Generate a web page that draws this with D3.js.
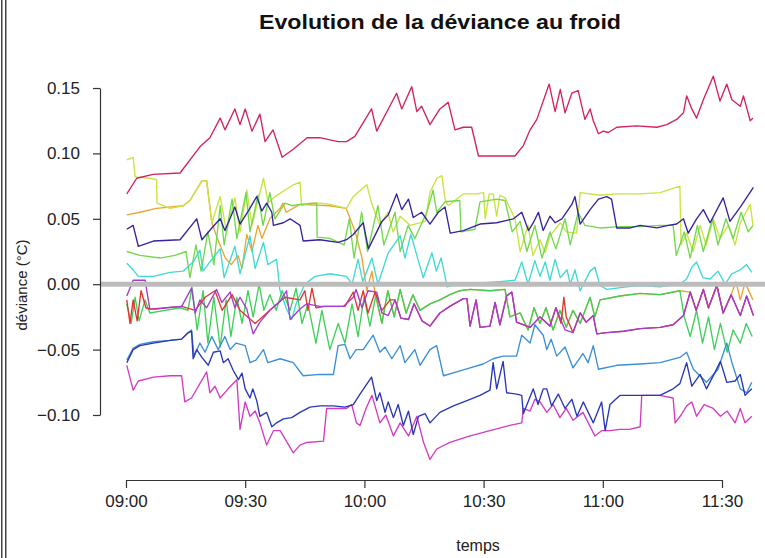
<!DOCTYPE html>
<html><head><meta charset="utf-8">
<script src="https://cdn.jsdelivr.net/npm/d3@7"></script>
<style>body{margin:0;background:#fff} svg{display:block}</style>
</head><body><svg id="c" width="765" height="558"></svg>
<script>
const title = "Evolution de la déviance au froid";
const yLabel = "déviance (°C)";
const xLabel = "temps";
const yTicks = [-0.10, -0.05, 0, 0.05, 0.10, 0.15];
const xTickLabels = ["09:00", "09:30", "10:00", "10:30", "11:00", "11:30"];

// [minutes after 09:00, deviance °C]
const crimson = [[0.2,0.069],[2.7,0.081],[6.8,0.084],[13.6,0.085],[18.6,0.105],[21.1,0.112],[23.7,0.127],[24.9,0.118],[27.4,0.134],[28.7,0.122],[30,0.134],[31.7,0.117],[33.7,0.130],[35,0.109],[37,0.118],[39.3,0.097],[42,0.103],[45.6,0.112],[48.8,0.112],[53.4,0.109],[55.5,0.109],[57.6,0.113],[61.8,0.134],[63.1,0.117],[68.1,0.146],[69.4,0.134],[71.9,0.151],[73.2,0.132],[74.4,0.136],[76.5,0.122],[79,0.134],[81.1,0.139],[82.8,0.118],[84.9,0.120],[87,0.120],[88.7,0.098],[92.4,0.098],[97.9,0.098],[100,0.106],[101.7,0.118],[103.4,0.126],[106.5,0.153],[108,0.132],[109.3,0.149],[110.5,0.131],[112.2,0.146],[113.8,0.148],[115.5,0.126],[116.8,0.134],[117.6,0.125],[118.9,0.115],[120.1,0.117],[121.4,0.116],[123.5,0.120],[128.5,0.121],[133.6,0.120],[136.1,0.122],[138.6,0.126],[140.3,0.131],[141.1,0.144],[142.4,0.134],[143.6,0.127],[145.3,0.141],[147.8,0.159],[149.5,0.140],[151.2,0.153],[152.5,0.141],[154.6,0.136],[155.4,0.144],[157.1,0.125],[157.8,0.127]];
const navy = [[0.2,0.042],[1.8,0.045],[3.1,0.029],[6.9,0.033],[13.6,0.034],[17.8,0.050],[19.1,0.034],[21.6,0.043],[23.7,0.050],[24.9,0.041],[27.4,0.059],[28.7,0.046],[30.8,0.056],[32.9,0.067],[34.2,0.056],[35.4,0.062],[36.7,0.055],[37.1,0.045],[39.6,0.047],[41.3,0.050],[43.8,0.045],[44.6,0.033],[48.8,0.034],[53.4,0.032],[55.5,0.034],[57.2,0.038],[59.7,0.047],[61,0.027],[64.4,0.048],[66,0.053],[68.1,0.069],[69.4,0.057],[71.1,0.065],[72.3,0.051],[74.4,0.055],[76.5,0.046],[78.6,0.055],[80.3,0.059],[81.6,0.039],[84.9,0.041],[89.1,0.046],[93.3,0.047],[97.5,0.050],[99.6,0.055],[101.3,0.041],[102.5,0.047],[103.8,0.055],[105,0.041],[106.7,0.052],[108,0.047],[109.7,0.050],[112.2,0.061],[113,0.067],[114.3,0.046],[116.8,0.057],[118.9,0.065],[121,0.067],[122.2,0.065],[123.5,0.043],[126.9,0.043],[129.4,0.045],[133.6,0.043],[136.5,0.045],[138.6,0.046],[140.3,0.050],[141.5,0.039],[143.6,0.050],[145.3,0.057],[147,0.047],[150.3,0.066],[152,0.048],[154.6,0.059],[157.9,0.074]];
const yellowGreen = [[0.2,0.095],[1.8,0.097],[2.3,0.082],[6,0.081],[7.7,0.080],[7.8,0.062],[11.1,0.058],[14.4,0.060],[16.1,0.064],[19.1,0.079],[20.3,0.079],[21.6,0.047],[23.7,0.067],[25.3,0.040],[27.4,0.066],[28.7,0.040],[30.4,0.072],[31.7,0.045],[34.6,0.081],[35.8,0.062],[37.5,0.067],[42.1,0.076],[43.8,0.078],[44.2,0.060],[46.3,0.062],[48.8,0.062],[51.3,0.061],[55.5,0.058],[57.2,0.067],[60.6,0.076],[61.8,0.062],[63.9,0.045],[65.9,0.055],[67.2,0.040],[69,0.052],[71.5,0.045],[75.3,0.048],[76.5,0.070],[78.2,0.081],[79.5,0.083],[80.3,0.065],[81.1,0.060],[83.2,0.065],[84.9,0.069],[88.3,0.069],[90,0.070],[90.4,0.050],[91.4,0.069],[92.4,0.069],[93.3,0.052],[94.1,0.068],[95.4,0.066],[97.9,0.050],[99.2,0.025],[101.2,0.045],[102.4,0.022],[104.2,0.034],[105.5,0.024],[106.7,0.037],[109.3,0.047],[110.8,0.040],[113.4,0.039],[114.3,0.070],[119.3,0.068],[123.5,0.069],[129.4,0.069],[134.4,0.070],[139.4,0.075],[139.7,0.030],[141.1,0.039],[142.7,0.025],[144.5,0.045],[146,0.030],[147.8,0.050],[149.5,0.035],[151.6,0.045],[153.3,0.030],[154.6,0.047],[157.1,0.061],[157.8,0.045]];
const lime = [[0.2,0.025],[3.5,0.022],[8.6,0.020],[12.3,0.022],[15.1,0.025],[16.1,0.005],[17.6,0.030],[18.9,0.010],[20.6,0.040],[22.1,0.015],[23.7,0.060],[24.7,0.030],[26.7,0.065],[27.9,0.035],[30.2,0.070],[31.2,0.040],[33.2,0.068],[34.5,0.045],[36.2,0.070],[37.5,0.050],[40,0.062],[41.8,0.060],[43.8,0.061],[48,0.062],[48.1,0.036],[51.3,0.035],[54.9,0.030],[56.2,0.050],[57.4,0.020],[59.3,0.055],[60.8,0.025],[63.4,0.060],[64.9,0.030],[67.7,0.055],[69,0.025],[71,0.045],[72.7,0.035],[75.7,0.055],[77.3,0.072],[78.2,0.055],[80.3,0.063],[84,0.064],[84.3,0.040],[87.8,0.042],[89.1,0.063],[93.3,0.065],[95.4,0.064],[97.2,0.040],[99.2,0.048],[100.9,0.025],[102.9,0.045],[104.7,0.020],[106.7,0.040],[108.2,0.027],[110.5,0.050],[111.8,0.030],[113.8,0.055],[115.5,0.045],[119.3,0.043],[124.3,0.044],[129.4,0.044],[134.4,0.045],[137.7,0.045],[138.5,0.022],[140.5,0.040],[142,0.020],[143.8,0.045],[145.3,0.025],[147.6,0.050],[149,0.030],[151,0.050],[152.8,0.035],[154.8,0.055],[156.6,0.040],[157.8,0.045]];
const green = [[0.2,-0.015],[1.3,-0.030],[2.3,-0.010],[3.3,-0.028],[4.8,-0.012],[6,-0.022],[9.8,-0.020],[13.6,-0.018],[15.6,-0.020],[16.6,-0.002],[17.9,-0.035],[19.4,-0.005],[20.6,-0.045],[22.1,-0.010],[23.7,-0.048],[25.2,-0.012],[26.4,-0.040],[27.9,-0.010],[29.2,-0.030],[30.7,-0.005],[32,-0.025],[33.5,0.000],[34.7,-0.020],[36.2,-0.008],[37.8,-0.020],[39.3,-0.005],[41.3,-0.020],[42.8,-0.003],[44.3,-0.030],[45.8,-0.015],[47.8,-0.045],[49.3,-0.020],[51.3,-0.050],[53.4,-0.030],[55.1,-0.045],[56.9,-0.015],[58.4,-0.040],[59.9,-0.010],[61.4,-0.032],[62.9,-0.008],[64.4,-0.030],[65.9,-0.005],[67.5,-0.025],[69,-0.004],[70.5,-0.022],[72.2,-0.008],[74,-0.020],[76.5,-0.015],[79,-0.012],[81.5,-0.008],[84,-0.005],[86.6,-0.004],[91.6,-0.005],[95.4,-0.004],[96.6,-0.025],[99.2,-0.022],[101.2,-0.035],[102.7,-0.018],[104.2,-0.030],[105.7,-0.018],[107.5,-0.035],[109.2,-0.020],[110.8,-0.033],[112.5,-0.020],[114.3,-0.030],[116.8,-0.010],[118,-0.025],[119.3,-0.012],[124.3,-0.009],[129.4,-0.007],[134.4,-0.008],[139.4,-0.005],[140.5,-0.025],[142,-0.040],[143.6,-0.020],[145.1,-0.045],[146.6,-0.025],[148.1,-0.050],[149.6,-0.030],[151.3,-0.052],[152.8,-0.035],[154.6,-0.045],[156.1,-0.030],[157.6,-0.040]];
const cyan = [[0.2,0.016],[1.8,0.011],[3.1,0.006],[6.9,0.006],[11.1,0.009],[14.4,0.010],[16.9,0.017],[18.6,0.026],[19.4,0.010],[21.1,0.017],[23.7,0.027],[24.7,0.005],[27.4,0.029],[28.7,0.008],[31.2,0.037],[32.5,0.012],[34.6,0.032],[35.7,0.015],[37.9,0.019],[38.7,-0.004],[40.4,-0.019],[41.7,-0.027],[42.9,-0.014],[45,0.000],[47.6,0.006],[51.3,0.008],[55.5,0.006],[56.9,0.000],[58.4,0.019],[59.6,0.002],[61.9,0.020],[63.4,0.000],[66,0.024],[69,0.037],[70.2,0.020],[71.7,0.038],[73.2,0.022],[74.8,0.005],[77,0.024],[78.1,0.010],[79.3,0.020],[80.3,0.006],[80.8,-0.002],[84,0.000],[89.1,0.001],[94.1,0.002],[97.9,0.003],[99.6,0.017],[101.2,0.000],[102.9,0.018],[104.2,0.006],[105.5,0.017],[106.7,0.003],[108,0.019],[109.3,0.005],[111,0.011],[111.8,0.000],[113,0.011],[114.3,-0.005],[116.8,0.010],[118,0.013],[119.3,-0.001],[121,-0.004],[126,-0.002],[129.4,-0.001],[134.4,-0.002],[139.4,0.000],[141.1,0.004],[142.4,0.013],[143.6,0.017],[145.2,0.005],[147,0.004],[149,0.010],[150.8,0.000],[152.5,0.008],[154.6,0.011],[156.2,0.015],[157.5,0.009]];
const orange = [[0.2,0.053],[3.5,0.055],[7.6,0.058],[14.4,0.060],[16.1,0.064],[19.1,0.079],[20.3,0.079],[21.6,0.047],[23,0.035],[25,0.020],[26.5,0.015],[28.2,0.022],[29.2,0.012],[30.4,0.038],[31.7,0.025],[33.2,0.045],[34.2,0.035],[36.2,0.050],[38.8,0.058],[39.5,0.062],[40.3,0.055],[43.8,0.061],[51.3,0.060],[55.4,0.058],[57.7,0.040],[59.4,0.020],[60.6,-0.005],[61.9,0.010],[62.7,-0.008],[64.4,-0.030],[65.9,-0.005],[67.5,-0.025],[69,-0.004],[70.5,-0.022],[72.2,-0.008],[74,-0.020],[76.5,-0.015],[79,-0.012],[81.5,-0.008],[84,-0.005],[86.6,-0.004],[91.6,-0.005],[95.4,-0.004],[96.6,-0.025],[99.2,-0.022],[101.2,-0.035],[102.7,-0.018],[104.2,-0.030],[105.7,-0.018],[107.5,-0.035],[109.2,-0.020],[110.8,-0.033],[112.5,-0.020],[114.3,-0.030],[116.8,-0.010],[118,-0.025],[119.3,-0.012],[124.3,-0.009],[129.4,-0.007],[134.4,-0.008],[139.4,-0.005],[142,-0.006],[143.5,-0.020],[145.3,-0.004],[146.6,-0.018],[148.7,-0.001],[150.3,-0.022],[152.3,-0.008],[153.5,0.002],[154.6,-0.012],[155.8,0.001],[157.8,-0.012]];
const red = [[0.2,-0.012],[1,-0.030],[1.8,-0.012],[2.8,-0.028],[3.8,-0.005],[5,-0.018],[6,-0.019],[14,-0.017],[17.4,-0.020],[19.9,-0.010],[22.4,-0.005],[24.2,-0.020],[26.7,-0.008],[28.7,-0.020],[32.5,-0.030],[36.2,-0.020],[40,-0.010],[43.8,-0.012],[45,-0.005],[45.8,-0.020],[46.8,-0.003],[47.8,-0.018],[50.1,-0.017],[55.1,-0.017],[57.2,-0.006],[58.4,-0.020],[59.7,-0.005],[60.9,-0.022],[62.7,-0.006],[64.4,-0.020],[66.5,-0.012],[67.7,-0.012],[69.2,-0.026],[71.1,-0.027],[72.5,-0.015],[74.5,-0.028],[76.5,-0.032],[79,-0.022],[81.5,-0.017],[84.9,-0.011],[85.8,-0.011],[86.6,-0.032],[88.1,-0.012],[89.1,-0.033],[91.6,-0.032],[92.9,-0.014],[94.1,-0.031],[95.8,-0.009],[97.1,-0.006],[98.3,-0.029],[101.7,-0.033],[104.2,-0.025],[106.7,-0.032],[108.2,-0.018],[109.5,-0.030],[110.2,-0.010],[110.8,-0.025],[112.5,-0.037],[114.3,-0.022],[115.8,-0.029],[117.6,-0.024],[118.5,-0.038],[121,-0.037],[125.2,-0.036],[129.4,-0.034],[134.4,-0.033],[137.7,-0.031],[140.3,-0.024],[142,-0.006],[143.5,-0.020],[145.3,-0.004],[146.6,-0.018],[148.7,-0.001],[150.3,-0.022],[152.3,-0.008],[154.6,-0.024],[156.2,-0.009],[157.9,-0.024]];
const purple = [[0.2,-0.009],[1.8,0.003],[4.8,0.003],[6,-0.019],[7.7,-0.019],[10.2,-0.018],[14,-0.017],[16.5,-0.003],[17.4,-0.022],[18.6,-0.012],[20.3,-0.018],[22.8,-0.004],[24.1,-0.014],[26.2,-0.006],[27.4,-0.018],[28.7,-0.010],[30.4,-0.019],[32,-0.038],[33.7,-0.029],[36.2,-0.020],[38.8,-0.013],[40.4,-0.005],[41.3,-0.027],[43.8,-0.019],[45.5,-0.015],[48.8,-0.017],[52.2,-0.017],[54.7,-0.017],[57.2,-0.010],[57.9,-0.004],[59.4,-0.018],[60.9,-0.005],[63.1,-0.006],[64.4,-0.022],[66,-0.024],[67.7,-0.012],[69.2,-0.026],[71.1,-0.027],[72.5,-0.015],[74.5,-0.028],[76.5,-0.032],[79,-0.022],[81.5,-0.017],[84.9,-0.011],[85.8,-0.011],[86.6,-0.032],[88.1,-0.012],[89.1,-0.033],[91.6,-0.032],[92.9,-0.014],[94.1,-0.031],[95.8,-0.009],[97.1,-0.006],[98.3,-0.029],[101.7,-0.033],[104.2,-0.025],[106.7,-0.032],[108.2,-0.018],[110.5,-0.035],[112.5,-0.037],[114.3,-0.022],[115.8,-0.029],[117.6,-0.024],[118.5,-0.038],[121,-0.037],[125.2,-0.036],[129.4,-0.034],[134.4,-0.033],[137.7,-0.031],[140.3,-0.024],[142,-0.006],[143.5,-0.020],[145.3,-0.004],[146.6,-0.018],[148.7,-0.001],[150.3,-0.022],[152.3,-0.008],[154.6,-0.024],[156.2,-0.009],[157.9,-0.024]];
const skyBlue = [[0.2,-0.058],[1.8,-0.049],[3.5,-0.046],[6.9,-0.044],[11.1,-0.043],[14,-0.042],[15.7,-0.037],[16.5,-0.035],[17.1,-0.055],[18.6,-0.045],[19.9,-0.052],[21.6,-0.040],[23.2,-0.050],[24.9,-0.040],[26.2,-0.050],[27.7,-0.045],[30,-0.047],[31.2,-0.060],[32.7,-0.058],[34.6,-0.050],[35.7,-0.060],[38.8,-0.057],[42.1,-0.060],[44.6,-0.070],[48.8,-0.069],[52.2,-0.069],[53.4,-0.047],[55.1,-0.046],[56.4,-0.057],[57.9,-0.050],[59.7,-0.050],[62.2,-0.039],[63.9,-0.052],[65.2,-0.048],[66.9,-0.057],[69,-0.047],[70.2,-0.060],[72.7,-0.050],[74,-0.062],[76.5,-0.050],[78.2,-0.047],[79.9,-0.070],[83.2,-0.067],[86.6,-0.064],[89.9,-0.061],[92.4,-0.057],[94.9,-0.055],[98.3,-0.055],[99.6,-0.039],[101.7,-0.045],[102.9,-0.031],[105,-0.039],[105.9,-0.050],[107,-0.042],[108.4,-0.055],[110.5,-0.048],[112.5,-0.064],[115,-0.053],[116.3,-0.060],[117.6,-0.047],[118.9,-0.065],[123.5,-0.062],[129.4,-0.061],[134.4,-0.060],[139.4,-0.056],[141.1,-0.052],[142.8,-0.065],[146.1,-0.075],[149,-0.065],[151.2,-0.045],[152.5,-0.060],[154.6,-0.080],[156.2,-0.083],[157.5,-0.075]];
const royalBlue = [[0.2,-0.060],[1.8,-0.050],[3.5,-0.047],[6.9,-0.045],[11.1,-0.043],[14,-0.042],[15.7,-0.037],[16.5,-0.036],[16.9,-0.057],[17.8,-0.050],[19.1,-0.056],[20.7,-0.062],[22,-0.052],[23.7,-0.051],[24.5,-0.060],[25.7,-0.057],[27,-0.066],[28.3,-0.073],[29.2,-0.068],[30,-0.080],[31.2,-0.087],[31.9,-0.080],[32.9,-0.089],[33.7,-0.101],[35.4,-0.098],[36.7,-0.109],[37.9,-0.106],[39.6,-0.103],[41.7,-0.102],[43.8,-0.098],[46.3,-0.094],[48.8,-0.093],[52.2,-0.093],[55.1,-0.094],[57.2,-0.092],[59.1,-0.083],[61.8,-0.071],[63.1,-0.089],[63.9,-0.083],[65.2,-0.098],[66,-0.090],[67.3,-0.102],[68.5,-0.092],[69.8,-0.108],[71.1,-0.097],[72.3,-0.115],[73.6,-0.101],[75.3,-0.099],[76.5,-0.106],[79,-0.098],[82.4,-0.093],[85.8,-0.089],[89.1,-0.085],[91.6,-0.081],[92.4,-0.060],[93.3,-0.080],[94.9,-0.059],[95.8,-0.083],[98.3,-0.084],[99.6,-0.085],[100,-0.099],[102.5,-0.080],[103.7,-0.092],[105,-0.080],[105.9,-0.080],[107.1,-0.093],[108.8,-0.084],[110.5,-0.095],[112.2,-0.088],[113.5,-0.101],[115.1,-0.090],[117.6,-0.106],[119.7,-0.090],[120.6,-0.112],[121.8,-0.092],[124.3,-0.085],[129.4,-0.085],[134.4,-0.085],[137.7,-0.080],[139.4,-0.076],[141.1,-0.060],[142.4,-0.078],[144.5,-0.069],[146.1,-0.080],[148.3,-0.067],[149.6,-0.059],[151.2,-0.075],[153.3,-0.074],[154.6,-0.069],[155.8,-0.085],[157.5,-0.080]];
const magenta = [[0.2,-0.062],[1.8,-0.081],[3.1,-0.074],[6.9,-0.071],[11.1,-0.070],[14,-0.070],[14.8,-0.090],[16.5,-0.087],[20.3,-0.067],[21.1,-0.083],[22.4,-0.078],[23.7,-0.087],[25.7,-0.080],[27.9,-0.073],[28.7,-0.111],[30,-0.090],[31.2,-0.101],[32.5,-0.097],[33.7,-0.106],[35.4,-0.123],[37.1,-0.112],[38.8,-0.112],[42.1,-0.129],[43.8,-0.123],[45.5,-0.121],[49.7,-0.120],[50.5,-0.095],[53.4,-0.095],[55.5,-0.095],[56.8,-0.092],[58,-0.106],[58.9,-0.108],[60.4,-0.095],[61.9,-0.085],[63.9,-0.106],[65.4,-0.100],[67.3,-0.116],[69,-0.106],[71.1,-0.116],[73.2,-0.101],[74.9,-0.121],[76.5,-0.134],[78.2,-0.126],[81.5,-0.121],[86.6,-0.116],[91.6,-0.112],[96.6,-0.108],[99.6,-0.106],[100,-0.095],[101.7,-0.097],[102.9,-0.088],[104.2,-0.090],[105.9,-0.098],[107.5,-0.092],[109.2,-0.102],[110.8,-0.095],[112.5,-0.104],[115,-0.098],[118,-0.116],[119.7,-0.112],[121.8,-0.112],[124.3,-0.111],[126.8,-0.111],[129.4,-0.109],[129.8,-0.085],[134.4,-0.085],[137.7,-0.087],[138.2,-0.106],[139.7,-0.100],[141.1,-0.093],[142.4,-0.090],[143.6,-0.101],[145.5,-0.092],[147.8,-0.095],[149.6,-0.101],[151.3,-0.097],[153.3,-0.106],[154.6,-0.095],[155.8,-0.106],[157.5,-0.101]];

const seriesData = [orange, yellowGreen, lime, cyan, green, red, purple, skyBlue, magenta, royalBlue, navy, crimson];
const seriesColors = ["#efa333", "#c9e33f", "#72d94a", "#3ddad6", "#3fcf5a", "#e0362f", "#a33ccf", "#3a8fd6", "#d23cc4", "#2a36b8", "#35249e", "#d2235f"];

const svg = d3.select("#c");
const font = "'Liberation Sans', Arial, sans-serif";
const base = new Date(2000, 0, 1, 9, 0, 0);
const toDate = m => new Date(base.getTime() + m * 60000);
const parseT = s => { const [h, mm] = s.split(":").map(Number); return new Date(2000, 0, 1, h, mm); };

const x = d3.scaleTime().domain([parseT(xTickLabels[0]), parseT(xTickLabels[xTickLabels.length - 1])]).range([126, 722]);
const y = d3.scaleLinear().domain([-0.10, 0.15]).range([415, 88]);

// left window frame
svg.append("rect").attr("x", 1).attr("y", 0).attr("width", 1.5).attr("height", 558).attr("fill", "#444");
svg.append("rect").attr("x", 5).attr("y", 0).attr("width", 1.5).attr("height", 558).attr("fill", "#444");

const line = d3.line().x(d => x(toDate(d[0]))).y(d => y(d[1]));
svg.append("g").selectAll("path").data(seriesData).join("path")
  .attr("d", line).attr("fill", "none")
  .attr("stroke", (d, i) => seriesColors[i]).attr("stroke-width", 1.35)
  .attr("stroke-linejoin", "round");

// zero reference
svg.append("line").attr("x1", 100).attr("x2", 765).attr("y1", y(0)).attr("y2", y(0))
  .attr("stroke", "#bcbcbc").attr("stroke-width", 5);

const xAxis = svg.append("g").attr("transform", "translate(0,480)")
  .call(d3.axisBottom(x).tickValues(xTickLabels.map(parseT)).tickFormat(d3.timeFormat("%H:%M"))
    .tickSize(8).tickSizeOuter(0).tickPadding(7));
const yAxis = svg.append("g").attr("transform", "translate(100,0)")
  .call(d3.axisLeft(y).tickValues(yTicks).tickFormat(d3.format(".2f"))
    .tickSize(7).tickSizeOuter(0).tickPadding(13));
[xAxis, yAxis].forEach(g => {
  g.selectAll("path,line").attr("stroke", "#333").attr("stroke-width", 1.2);
  g.selectAll("text").attr("fill", "#222").style("font-family", font).style("font-size", "17px");
});

svg.append("text").attr("x", 440).attr("y", 29).attr("text-anchor", "middle")
  .attr("textLength", 362).attr("lengthAdjust", "spacingAndGlyphs")
  .style("font-family", font).style("font-size", "21px").style("font-weight", "bold").attr("fill", "#111")
  .text(title);
svg.append("text").attr("x", 478).attr("y", 551).attr("text-anchor", "middle")
  .style("font-family", font).style("font-size", "16px").attr("fill", "#222").text(xLabel);
svg.append("text").attr("transform", "translate(27,285) rotate(-90)").attr("text-anchor", "middle")
  .style("font-family", font).style("font-size", "15px").attr("fill", "#222").text(yLabel);
</script></body></html>
